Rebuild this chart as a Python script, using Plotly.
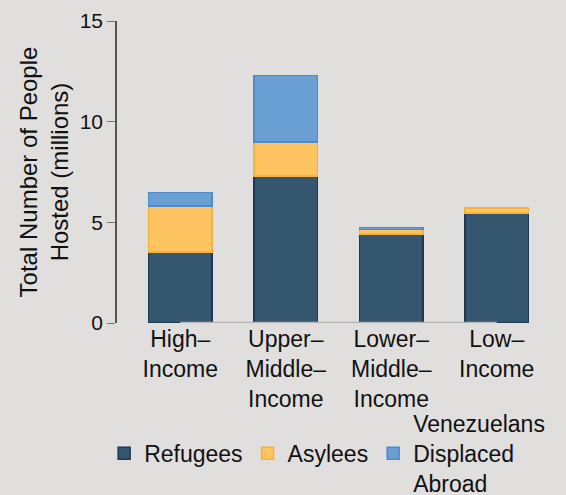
import plotly.graph_objects as go

categories = ["High–<br>Income", "Upper–<br>Middle–<br>Income", "Lower–<br>Middle–<br>Income", "Low–<br>Income"]
refugees = [3.52, 7.30, 4.41, 5.46]
asylees = [2.28, 1.70, 0.24, 0.25]
venezuelans = [0.69, 3.29, 0.10, None]

series_names = [" <br>Refugees<br> ", " <br>Asylees<br> ", "Venezuelans<br>Displaced<br>Abroad"]
fill_colors = ["#34566e", "#fec461", "#6a9fd4"]
line_colors = ["#1c3a56", "#f7b23b", "#4e8bcb"]

FONT = "Liberation Sans, Arial, Helvetica, sans-serif"
TXT = 23

fig = go.Figure()
for name, vals, fc, lc in zip(series_names, [refugees, asylees, venezuelans], fill_colors, line_colors):
    fig.add_trace(go.Bar(
        x=list(range(len(categories))), y=vals, name=name,
        marker=dict(color=fc, line=dict(color=lc, width=1.5)),
        width=0.6,
    ))

fig.add_shape(type="line", xref="x", yref="y", x0=0, x1=len(categories) - 1, y0=0, y1=0,
              line=dict(color="#b3b3b3", width=2.5), layer="above")

bg = "#e0dfde"
fig.update_layout(
    barmode="stack",
    width=566, height=495,
    paper_bgcolor=bg, plot_bgcolor=bg,
    margin=dict(l=117, r=6, t=21, b=172, autoexpand=False),
    font=dict(family=FONT, size=TXT, color="#111111"),
    showlegend=True,
    legend=dict(orientation="h", xref="container", yref="container",
                x=0.184, xanchor="left", y=0.084, yanchor="middle",
                font=dict(size=23), bgcolor="rgba(0,0,0,0)", valign="middle",
                traceorder="normal", tracegroupgap=0),
    xaxis=dict(
        tickmode="array", tickvals=list(range(len(categories))), ticktext=categories,
        range=[-0.6, 3.6], showgrid=False, zeroline=False, showline=False,
        ticks="", tickfont=dict(size=TXT), automargin=False,
    ),
    yaxis=dict(
        range=[0, 15], tickvals=[0, 5, 10, 15], showgrid=False, zeroline=False,
        showline=True, linecolor="#555555", linewidth=1.5,
        ticks="outside", ticklen=8, tickcolor="#777777", tickwidth=1,
        tickfont=dict(size=21), automargin=False,
        title=dict(text="Total Number of People<br>Hosted (millions)", font=dict(size=24), standoff=4),
    ),
)

fig.write_html("out.html", config={"displayModeBar": False},
               post_script="document.body.style.margin='0';document.body.style.padding='0';")
